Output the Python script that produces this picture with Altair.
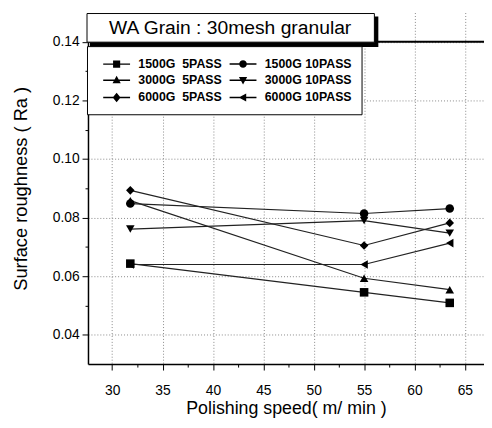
import altair as alt
import pandas as pd

# ---- data ----
series = ["1500G \u00a05PASS", "1500G 10PASS", "3000G \u00a05PASS",
          "3000G 10PASS", "6000G \u00a05PASS", "6000G 10PASS"]
speeds = [31.8, 55.0, 63.5]
ra_1500_5 = [0.0643, 0.0545, 0.0509]
ra_1500_10 = [0.0848, 0.0814, 0.0831]
ra_3000_5 = [0.0858, 0.0593, 0.0554]
ra_3000_10 = [0.0761, 0.0790, 0.0747]
ra_6000_5 = [0.0893, 0.0705, 0.0782]
ra_6000_10 = [0.0640, 0.0640, 0.0713]
all_vals = [ra_1500_5, ra_1500_10, ra_3000_5, ra_3000_10, ra_6000_5, ra_6000_10]

x_major = [30, 35, 40, 45, 50, 55, 60, 65]
x_minor = [32.5, 37.5, 42.5, 47.5, 52.5, 57.5, 62.5]
y_major = [0.04, 0.06, 0.08, 0.10, 0.12, 0.14]
y_minor = [0.05, 0.07, 0.09, 0.11, 0.13]
title_text = "WA Grain : 30mesh granular"

rows = []
for name, vals in zip(series, all_vals):
    for s, v in zip(speeds, vals):
        rows.append({"series": name, "speed": s, "ra": v})
df = pd.DataFrame(rows)

FONT = "Liberation Sans"
xscale = alt.Scale(domain=[27.6, 66.9], nice=False, zero=False)
yscale = alt.Scale(domain=[0.03, 0.15], nice=False, zero=False)

plot_shapes = ["square", "circle", "triangle-up", "triangle-down", "diamond", "triangle-left"]
# legend glyphs: a short line (thin filled bar) through the marker, all drawn clockwise
BAR = "M-1.7,-0.09H1.7V0.09H-1.7Z"
legend_shapes = [
    BAR + "M-0.45,-0.45H0.45V0.45H-0.45Z",
    BAR + "M0.48,0A0.48,0.48,0,1,1,-0.48,0A0.48,0.48,0,1,1,0.48,0Z",
    BAR + "M0,-0.55L0.52,0.4L-0.52,0.4Z",
    BAR + "M0,0.55L-0.52,-0.4L0.52,-0.4Z",
    BAR + "M0,-0.6L0.5,0L0,0.6L-0.5,0Z",
    BAR + "M-0.55,0L0.4,-0.5L0.4,0.5Z",
]

base = alt.Chart(df)

x_main = alt.X("speed:Q", scale=xscale, axis=alt.Axis(
    values=x_major, grid=True, gridDash=[1, 2], gridColor="#888", gridWidth=1,
    tickSize=6, tickColor="black", domainColor="black", domainWidth=1.5,
    labelFont=FONT, labelFontSize=14, labelColor="black", labelPadding=14,
    title="Polishing speed( m/ min )", titleFont=FONT, titleFontSize=18,
    titleFontWeight="normal", titleColor="black", titlePadding=2))
y_main = alt.Y("ra:Q", scale=yscale, axis=alt.Axis(
    values=y_major, format=".2f", grid=True, gridDash=[1, 2], gridColor="#888", gridWidth=1,
    tickSize=6, tickColor="black", domainColor="black", domainWidth=1.5,
    labelFont=FONT, labelFontSize=14, labelColor="black", labelPadding=3,
    title="Surface roughness ( Ra )", titleFont=FONT, titleFontSize=18.5,
    titleFontWeight="normal", titleColor="black", titlePadding=22))

x_plain = alt.X("speed:Q", scale=xscale, axis=None)
y_plain = alt.Y("ra:Q", scale=yscale, axis=None)

lines = base.mark_line(color="#222", strokeWidth=1.2).encode(
    x=x_main, y=y_main, detail="series:N")

minor = base.mark_point(opacity=0, size=0).encode(
    x=alt.X("speed:Q", scale=xscale, axis=alt.Axis(
        orient="bottom", values=x_minor, labels=False, domain=False, grid=False,
        tickSize=3, tickColor="black", title=None)),
    y=alt.Y("ra:Q", scale=yscale, axis=alt.Axis(
        orient="left", values=y_minor, labels=False, domain=False, grid=False,
        tickSize=3, tickColor="black", title=None)),
)

points = base.mark_point(filled=True, size=75, color="black", opacity=1).encode(
    x=x_plain, y=y_plain,
    shape=alt.Shape("series:N", scale=alt.Scale(domain=series, range=plot_shapes), legend=None))

legpts = base.mark_point(filled=True, size=0, color="black", opacity=0).encode(
    x=x_plain, y=y_plain,
    shape=alt.Shape("series:N", scale=alt.Scale(domain=series, range=legend_shapes),
                    sort=series,
                    legend=alt.Legend(
                        title=None, orient="none", legendX=-1, legendY=34,
                        columns=2, direction="horizontal",
                        padding=9, rowPadding=0.5, columnPadding=-2,
                        symbolSize=256, symbolOpacity=1, symbolFillColor="black",
                        symbolOffset=12,
                        labelFont=FONT, labelFontSize=12.5, labelFontWeight="bold",
                        labelColor="black", labelOffset=13,
                        strokeColor="black", fillColor="white")))

single = pd.DataFrame({"t": [title_text], "v": [0.14]})
topline = alt.Chart(single).mark_rule(color="black", strokeWidth=2).encode(
    y=alt.Y("v:Q", scale=yscale, axis=None))
shadow = alt.Chart(single).mark_rect(color="black").encode(
    x=alt.value(2), x2=alt.value(294), y=alt.value(4), y2=alt.value(35))
box = alt.Chart(single).mark_rect(fill="white", stroke="black", strokeWidth=1).encode(
    x=alt.value(-1), x2=alt.value(290), y=alt.value(1), y2=alt.value(30))
ttl = alt.Chart(single).mark_text(font=FONT, fontSize=19.5, color="black").encode(
    x=alt.value(144), y=alt.value(16), text="t:N")

chart = alt.layer(lines, minor, topline, points, legpts, shadow, box, ttl).resolve_axis(
    x="independent", y="independent").resolve_scale(shape="independent").properties(
    width=401, height=356,
    autosize=alt.AutoSizeParams(type="none"),
    padding={"left": 81, "top": 2, "right": 0, "bottom": 54},
).configure_view(strokeWidth=0)

chart.save("out.html", embed_options={"renderer": "svg", "actions": False})
